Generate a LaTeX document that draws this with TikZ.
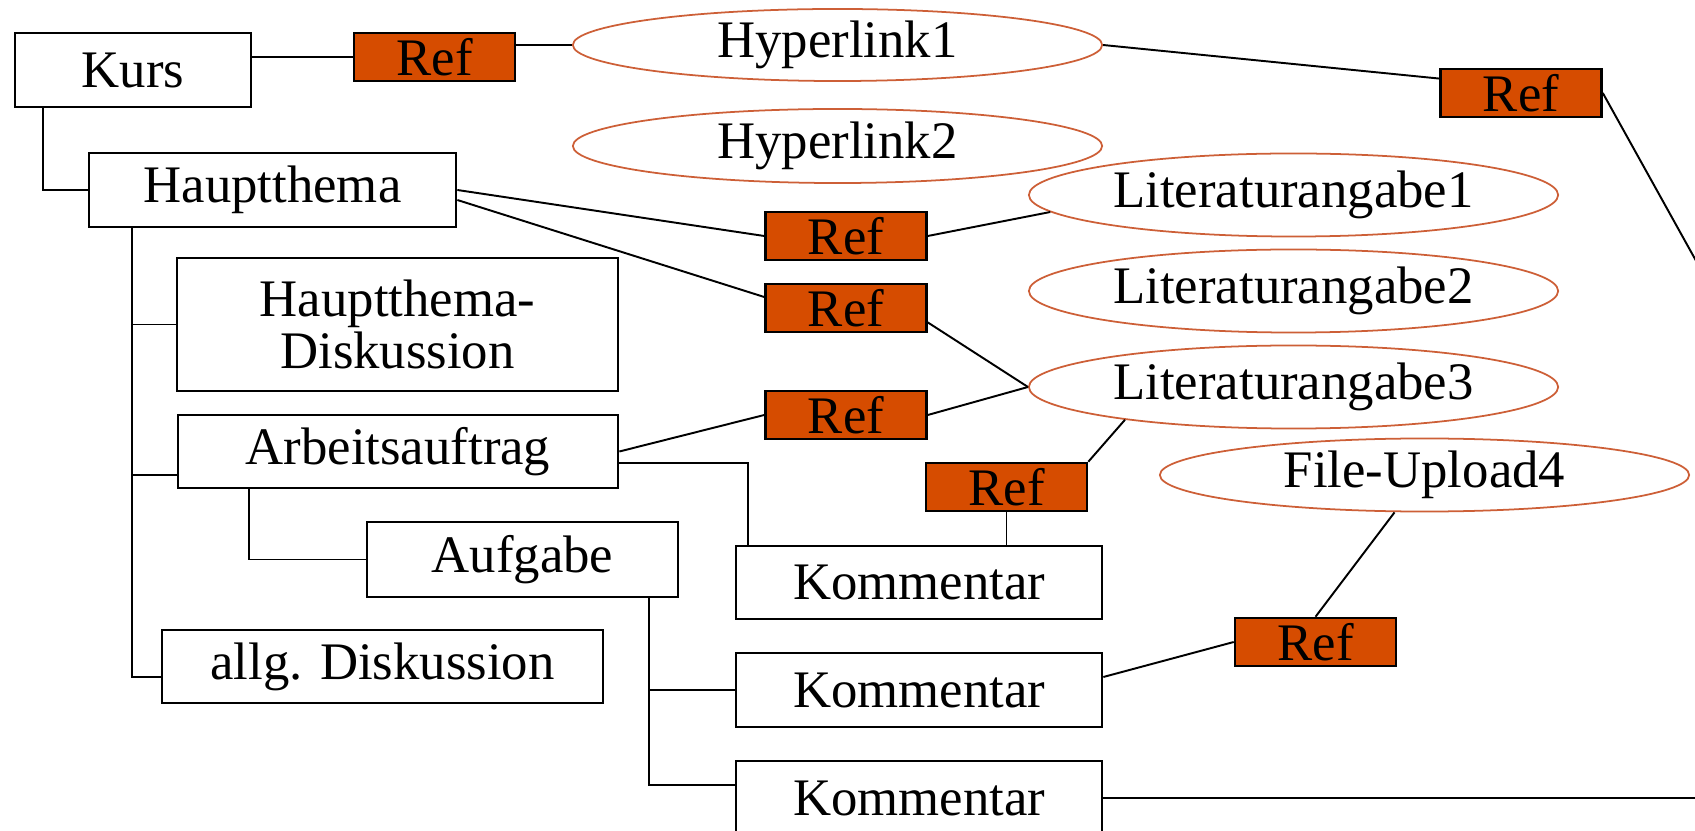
\documentclass[tikz,border=0pt]{standalone}
\usepackage{fontspec}
\setmainfont{Liberation Serif}
\usetikzlibrary{shapes.geometric}
\definecolor{refred}{RGB}{214,76,0}
\definecolor{linkline}{RGB}{205,95,55}
\begin{document}
\begin{tikzpicture}[x=0.01cm, y=-0.01cm, font=\fontsize{15}{14.7}\selectfont, line width=0.55pt,
  box/.style={draw, rectangle, line width=0.7pt, inner sep=0pt, align=center},
  refbox/.style={draw, rectangle, fill=refred, line width=0.7pt, inner sep=0pt, minimum width=1.61cm, minimum height=0.48cm},
  linkoval/.style={draw=linkline, ellipse, line width=0.5pt, inner sep=0pt, minimum width=5.29cm}]
  \useasboundingbox (0,0) rectangle (1695,831);

  \node[box, minimum width=2.36cm, minimum height=0.74cm] (kurs) at (133,70) {Kurs};
  \node[box, minimum width=3.67cm, minimum height=0.74cm] (haupt) at (272.5,190) {Hauptthema};
  \node[box, minimum width=4.41cm, minimum height=1.33cm] (hdisk) at (397.5,324.5) {Hauptthema-\\Diskussion};
  \node[box, minimum width=4.40cm, minimum height=0.73cm] (arbeit) at (398,451.5) {Arbeitsauftrag};
  \node[box, minimum width=3.11cm, minimum height=0.75cm] (aufgabe) at (522.5,559.5) {Aufgabe};
  \node[box, minimum width=4.41cm, minimum height=0.73cm] (allg) at (382.5,666.5) {allg. Diskussion};
  \node[box, minimum width=3.66cm, minimum height=0.73cm] (komm1) at (919,582.5) {Kommentar};
  \node[box, minimum width=3.66cm, minimum height=0.74cm] (komm2) at (919,690) {Kommentar};
  \node[box, minimum width=3.66cm, minimum height=0.74cm] (komm3) at (919,798) {Kommentar};

  \node[linkoval, minimum height=0.72cm] (hyp1) at (837.5,45) {Hyperlink1};
  \node[linkoval, minimum height=0.74cm] (hyp2) at (837.5,146) {Hyperlink2};
  \node[linkoval, minimum height=0.83cm] (lit1) at (1293.5,195) {Literaturangabe1};
  \node[linkoval, minimum height=0.83cm] (lit2) at (1293.5,291) {Literaturangabe2};
  \node[linkoval, minimum height=0.83cm] (lit3) at (1293.5,387) {Literaturangabe3};
  \node[linkoval, minimum height=0.73cm] (fu4) at (1424.5,475) {File-Upload4};

  \node[refbox] (ref1) at (434.5,57) {Ref};
  \node[refbox] (reftr) at (1521,93) {Ref};
  \node[refbox] (ref2) at (846,236) {Ref};
  \node[refbox] (ref3) at (846,308) {Ref};
  \node[refbox] (ref4) at (846,415) {Ref};
  \node[refbox] (ref5) at (1006.5,487) {Ref};
  \node[refbox] (ref6) at (1315.5,642) {Ref};

  % ends that run off the page
  \coordinate (edgetop) at (1720,304);
  \coordinate (edgebot) at (1720,797);

  \draw (kurs.east |- ref1.west) -- (ref1.west);
  \draw (ref1.east |- hyp1.west) -- (hyp1.west);
  \draw (hyp1.east) -- (reftr.170);
  \draw (reftr.east) -- (edgetop);

  \draw ([xshift=0.29cm]kurs.south west) |- (haupt.west);
  \draw ([xshift=0.44cm]haupt.south west) |- ([yshift=-0.105cm]allg.west);
  \draw ([xshift=0.44cm]haupt.south west) |- (hdisk.west);
  \draw ([xshift=0.44cm]haupt.south west) |- ([yshift=-0.235cm]arbeit.west);

  \draw (haupt.east) -- (ref2.west);
  \draw ([yshift=-0.1cm]haupt.east) -- ([yshift=0.11cm]ref3.west);
  \draw (ref2.east) -- (lit1.184);
  \draw (ref3.-10) -- (lit3.west);
  \draw (arbeit.east) -- (ref4.west);
  \draw (ref4.east) -- (lit3.west);

  \draw ([yshift=-0.115cm]arbeit.east) -| ([xshift=0.13cm]komm1.north west);
  \draw ([xshift=0.72cm]arbeit.south west) |- (aufgabe.west);
  \draw (ref5.north east) -- (lit3.191);
  \draw (ref5.south) -- (ref5.south |- komm1.north);

  \draw ([xshift=-0.3cm]aufgabe.south east) |- (komm2.west);
  \draw ([xshift=-0.3cm]aufgabe.south east) |- ([yshift=0.13cm]komm3.west);
  \draw ([yshift=0.13cm]komm2.east) -- (ref6.west);
  \draw (ref6.north) -- ([xshift=-0.3cm]fu4.south);
  \draw (komm3.east) -- (komm3.east -| edgebot);
\end{tikzpicture}
\end{document}
